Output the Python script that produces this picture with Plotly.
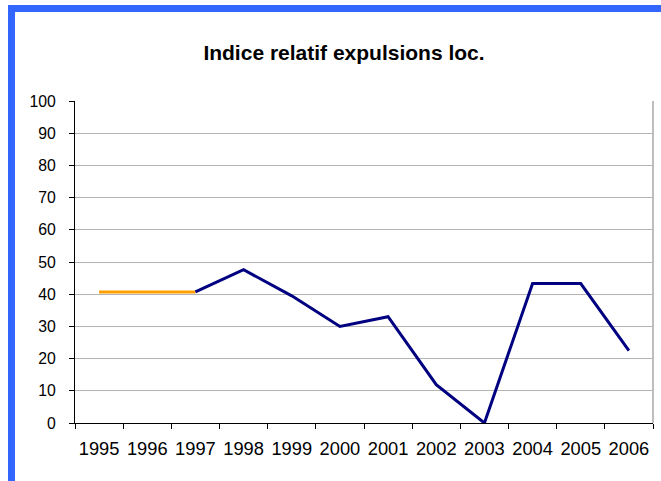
import plotly.graph_objects as go

years = ["1995", "1996", "1997", "1998", "1999", "2000",
         "2001", "2002", "2003", "2004", "2005", "2006"]
series_orange = [40.7, 40.7, 40.7, None, None, None, None, None, None, None, None, None]
series_navy = [None, None, 40.7, 47.6, 39.5, 30.0, 33.0, 11.9, 0.0, 43.3, 43.3, 22.5]
y_ticks = [0, 10, 20, 30, 40, 50, 60, 70, 80, 90, 100]
title_text = "Indice relatif expulsions loc."

W, H = 661, 481
L, R, T, B = 75, 653, 101, 423


def px_x(x):
    return (x - L) / (R - L)


def px_y(y):
    return (B - y) / (B - T)


fig = go.Figure()
fig.add_trace(go.Scatter(x=years, y=series_orange, mode="lines",
                         line=dict(color="#ffa000", width=3),
                         connectgaps=False, showlegend=False, hoverinfo="skip"))
fig.add_trace(go.Scatter(x=years, y=series_navy, mode="lines",
                         line=dict(color="#000080", width=3),
                         connectgaps=False, showlegend=False, hoverinfo="skip"))

font_family = "Liberation Sans, Arial, sans-serif"

fig.update_layout(
    width=W, height=H,
    margin=dict(l=L, r=W - R, t=T, b=H - B, pad=0, autoexpand=False),
    paper_bgcolor="white", plot_bgcolor="white",
    font=dict(family=font_family, color="black"),
    title=dict(text="<b>" + title_text + "</b>", x=344 / W, xref="container", xanchor="center",
               y=1 - 53 / H, yref="container", yanchor="middle",
               font=dict(size=21, family=font_family, color="black")),
    xaxis=dict(type="category", categoryorder="array", categoryarray=years,
               range=[-0.5, len(years) - 0.5],
               showline=True, linecolor="black", linewidth=1,
               ticks="outside", tickson="boundaries", ticklen=5, tickcolor="black",
               showgrid=False, zeroline=False, tickangle=0, automargin=False,
               tickfont=dict(size=18.3, family=font_family, color="black"),
               ticklabelstandoff=9),
    yaxis=dict(range=[0, 100], tickvals=y_ticks,
               showline=True, linecolor="black", linewidth=1,
               ticks="outside", ticklen=5, tickcolor="black",
               showgrid=True, gridcolor="#b4b4b4", gridwidth=1.2,
               zeroline=False, automargin=False,
               tickfont=dict(size=15.8, family=font_family, color="black"),
               ticklabelstandoff=10),
    shapes=[
        # right border of plot area
        dict(type="line", xref="paper", yref="paper", x0=1, x1=1, y0=0, y1=1,
             line=dict(color="#a8a8a8", width=1.5), layer="below"),
        # blue frame: top band
        dict(type="rect", xref="paper", yref="paper",
             x0=px_x(8), x1=px_x(W + 2), y0=px_y(12), y1=px_y(5),
             fillcolor="#3366ff", line=dict(width=0), layer="above"),
        # blue frame: left band
        dict(type="rect", xref="paper", yref="paper",
             x0=px_x(8), x1=px_x(15), y0=px_y(H + 2), y1=px_y(5),
             fillcolor="#3366ff", line=dict(width=0), layer="above"),
    ],
)

fig.write_html("out.html", config={"displayModeBar": False},
               post_script="document.body.style.margin='0';document.body.style.overflow='hidden';")
